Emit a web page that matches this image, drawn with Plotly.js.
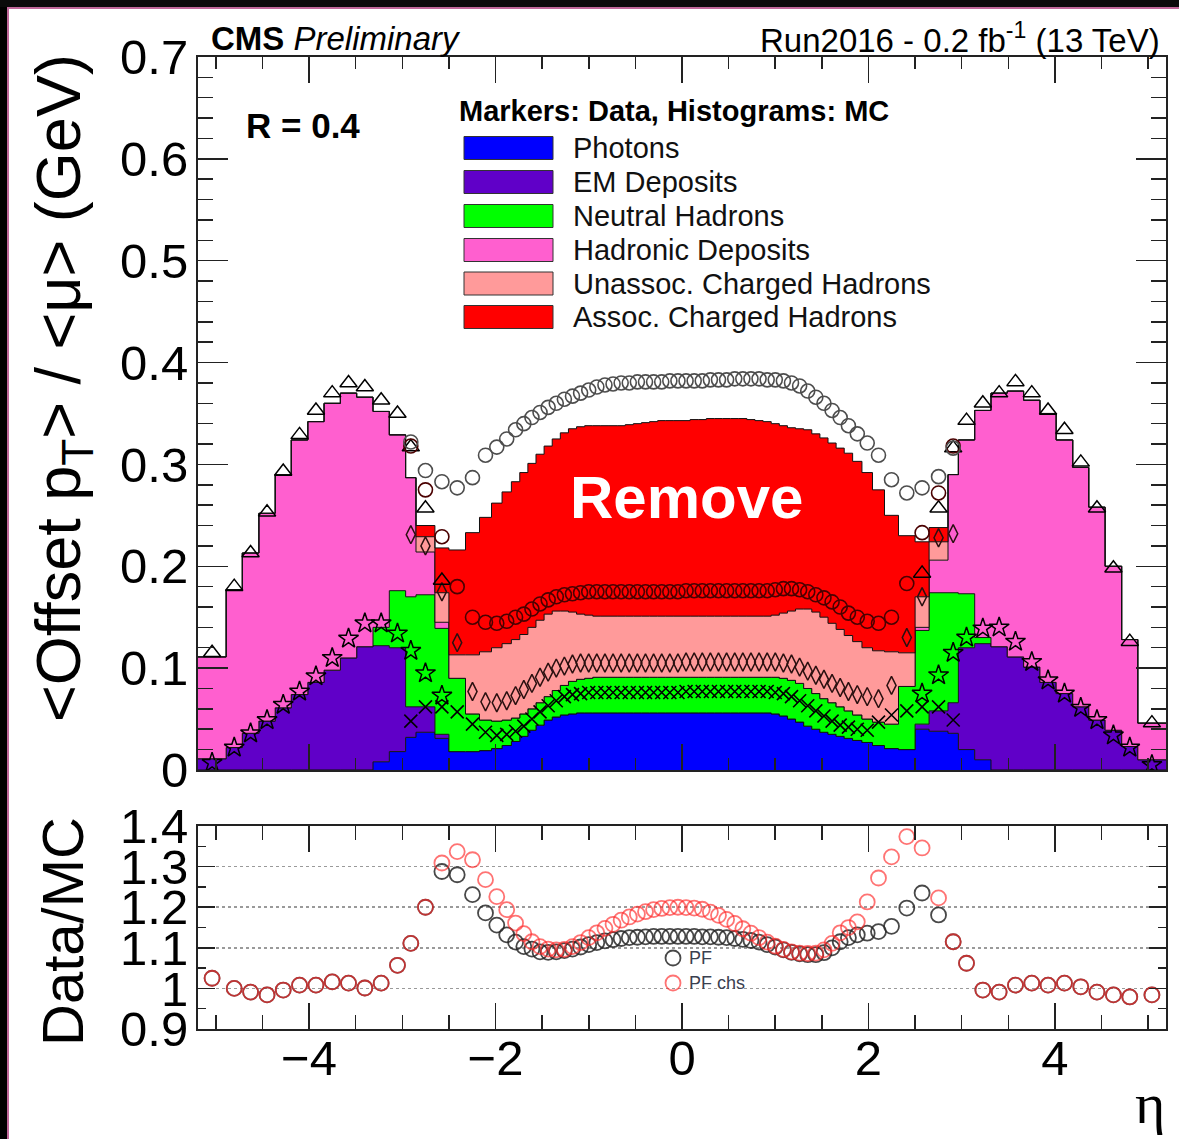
<!DOCTYPE html>
<html><head><meta charset="utf-8">
<script src="https://cdn.plot.ly/plotly-3.0.1.min.js"></script>
<style>html,body{margin:0;padding:0;background:#fff;overflow:hidden;}#chart{width:1179px;height:1139px;}</style>
</head><body><div id="chart"></div>
<script>
// calorimeter tower eta boundaries (positive side)
const towerEdgesPos = [0,0.087,0.174,0.261,0.348,0.435,0.522,0.609,0.696,0.783,0.870,0.957,1.044,1.131,1.218,1.305,1.392,1.479,1.566,1.653,1.740,1.830,1.930,2.043,2.172,2.322,2.500,2.650,2.853,2.964,3.139,3.314,3.489,3.664,3.839,4.013,4.191,4.363,4.538,4.716,4.889,5.191];

// MC stacked (cumulative tops), 82 eta bins from -5.191 to 5.191
const photonsMC = [0,0,0,0,0,0,0,0,0,0, 0.008,0.018,0.032,0.037,0.031,
 0.018,0.018,0.019,0.021,0.024,0.028,0.033,0.039,0.044,0.049,0.052,0.054,0.055,
 0.056,0.056,0.056,0.056,0.056,0.056,0.056,0.056,0.056,0.056,0.056,0.056,0.056,
 0.056,0.056,0.056,0.056,0.056,0.056,0.056,0.056,0.056,0.056,0.056,
 0.055,0.053,0.050,0.047,0.043,0.040,0.037,0.035,0.033,0.031,0.029,0.027,0.024,0.021,0.020,
 0.040,0.038,0.036,0.020,0.010, 0,0,0,0,0,0,0,0,0,0];
const emMC = [0.011,0.022,0.036,0.048,0.061,0.074,0.086,0.098,0.110,0.121, 0.122,0.120,0.062,0.062,0.035,
 0.018,0.018,0.019,0.021,0.024,0.028,0.033,0.039,0.044,0.049,0.052,0.054,0.055,
 0.056,0.056,0.056,0.056,0.056,0.056,0.056,0.056,0.056,0.056,0.056,0.056,0.056,
 0.056,0.056,0.056,0.056,0.056,0.056,0.056,0.056,0.056,0.056,0.056,
 0.055,0.053,0.050,0.047,0.043,0.040,0.037,0.035,0.033,0.031,0.029,0.027,0.024,0.021,0.020,
 0.045,0.058,0.066,0.120,0.124,0.121,0.111,0.101,0.086,0.075,0.062,0.049,0.039,0.023,0.010];
const neutralMC = [0.011,0.022,0.036,0.048,0.061,0.074,0.086,0.098,0.110,0.121, 0.140,0.176,0.170,0.172,0.139,
 0.090,0.055,0.049,0.048,0.049,0.051,0.055,0.060,0.066,0.072,0.078,0.083,0.087,
 0.089,0.090,0.091,0.091,0.091,0.091,0.091,0.091,0.091,0.091,0.091,0.091,0.091,
 0.091,0.091,0.091,0.091,0.091,0.091,0.091,0.091,0.091,0.091,0.091,0.091,
 0.090,0.088,0.085,0.080,0.075,0.070,0.066,0.062,0.058,0.054,0.050,0.047,0.045,0.082,
 0.137,0.174,0.174,0.173,0.130, 0.121,0.111,0.101,0.086,0.075,0.062,0.049,0.039,0.023,0.010];
const hadronicMC = [0.111,0.177,0.213,0.252,0.290,0.324,0.342,0.360,0.370,0.366,0.352,0.329,0.287, 0.214,0.145,
 0.090,0.055,0.049,0.048,0.049,0.051,0.055,0.060,0.066,0.072,0.078,0.083,0.087,
 0.089,0.090,0.091,0.091,0.091,0.091,0.091,0.091,0.091,0.091,0.091,0.091,0.091,
 0.091,0.091,0.091,0.091,0.091,0.091,0.091,0.091,0.091,0.091,0.091,0.091,
 0.090,0.088,0.085,0.080,0.075,0.070,0.066,0.062,0.058,0.054,0.050,0.047,0.045,0.082,
 0.140,0.206,0.290,0.324,0.353,0.370,0.372,0.363,0.350,0.324,0.297,0.258,0.200,0.128,0.046];
const unassocMC = [0.111,0.177,0.213,0.252,0.290,0.324,0.342,0.360,0.370,0.366,0.352,0.329,0.287, 0.229,0.174,
 0.113,0.113,0.116,0.120,0.124,0.128,0.133,0.140,0.147,0.153,0.156,0.156,0.155,0.153,0.152,
 0.151,0.151,0.151,0.151,0.151,0.151,0.151,0.151,0.151,0.151,0.151,
 0.151,0.151,0.151,0.151,0.151,0.151,0.151,0.151,0.151,0.151,0.151,
 0.152,0.154,0.156,0.158,0.158,0.155,0.150,0.144,0.138,0.132,0.126,0.120,0.117,0.116,0.115,
 0.170,0.224, 0.290,0.324,0.353,0.370,0.372,0.363,0.350,0.324,0.297,0.258,0.200,0.128,0.046];
const assocMC = [0.111,0.177,0.213,0.252,0.290,0.324,0.342,0.360,0.370,0.366,0.352,0.329,0.287, 0.240,0.218,
 0.216,0.233,0.248,0.262,0.273,0.283,0.292,0.301,0.310,0.318,0.325,0.331,0.335,0.337,0.338,0.338,0.338,0.338,0.338,0.339,0.340,0.341,0.342,0.343,0.343,0.343,
 0.343,0.344,0.344,0.345,0.345,0.345,0.345,0.345,0.344,0.343,0.342,0.340,0.338,0.336,0.335,0.334,0.330,0.326,0.321,0.316,0.311,0.303,0.292,0.275,0.250,0.230,
 0.224,0.238, 0.290,0.324,0.353,0.370,0.372,0.363,0.350,0.324,0.297,0.258,0.200,0.128,0.046];

// Data (cumulative, as drawn)
const N = null;
const photonsData = [N,N,N,N,N,N,N,N,N,N,N,N, 0.048,0.062,0.062,
 0.057,0.045,0.037,0.034,0.035,0.038,0.043,0.050,0.057,0.063,0.068,0.072,0.074,0.075,
 0.076,0.076,0.076,0.076,0.076,0.076,0.076,0.076,0.076,0.076,0.076,0.076,
 0.077,0.077,0.077,0.077,0.077,0.077,0.077,0.077,0.077,0.077,0.077,
 0.076,0.075,0.072,0.068,0.063,0.058,0.053,0.048,0.044,0.042,0.040,0.039,0.047,0.054,0.058,
 0.062,0.062,0.049, N,N,N,N,N,N,N,N,N,N,N,N];
const emData = [0.007,0.022,0.036,0.049,0.064,0.077,0.092,0.110,0.129,0.144,0.144,0.134,0.117,0.095,0.073,
 N,N,N,N,N,N,N,N,N,N,N,N,N,N,N,N,N,N,N,N,N,N,N,N,N,N,
 N,N,N,N,N,N,N,N,N,N,N,N,N,N,N,N,N,N,N,N,N,N,N,N,N,N,
 0.075,0.093,0.115,0.130,0.139,0.140,0.126,0.106,0.088,0.075,0.061,0.049,0.034,0.022,0.005];
const neutralData = [N,N,N,N,N,N,N,N,N,N,N,N,
 0.231,0.220,0.175,0.125,0.077,0.067,0.066,0.068,0.073,0.079,0.085,0.091,0.096,0.100,0.102,0.104,
 0.105,0.105,0.105,0.105,0.105,0.105,0.105,0.105,0.105,0.105,0.105,0.105,0.105,
 0.106,0.106,0.106,0.106,0.106,0.106,0.106,0.106,0.106,0.106,0.106,0.106,
 0.105,0.104,0.101,0.097,0.093,0.089,0.085,0.081,0.077,0.074,0.072,0.070,0.083,0.130,0.170,0.228,0.232,
 N,N,N,N,N,N,N,N,N,N,N,N];
const hadronicData = [0.115,0.180,0.213,0.253,0.293,0.329,0.353,0.370,0.380,0.376,0.363,0.350,0.317,0.257,0.186,
 N,N,N,N,N,N,N,N,N,N,N,N,N,N,N,N,N,N,N,N,N,N,N,N,N,N,
 N,N,N,N,N,N,N,N,N,N,N,N,N,N,N,N,N,N,N,N,N,N,N,N,N,N,
 0.193,0.257,0.316,0.343,0.360,0.370,0.381,0.370,0.353,0.334,0.302,0.257,0.198,0.126,0.046];
const unassocData = [N,N,N,N,N,N,N,N,N,N,N,N,
 0.318,0.275,0.229,0.180,0.150,0.145,0.144,0.146,0.150,0.153,0.158,0.163,0.167,0.170,0.172,0.173,0.174,
 0.175,0.175,0.175,0.175,0.175,0.175,0.175,0.175,0.175,0.175,0.175,0.175,
 0.176,0.176,0.176,0.176,0.176,0.176,0.176,0.176,0.176,0.176,0.176,
 0.177,0.178,0.178,0.177,0.175,0.172,0.169,0.165,0.160,0.154,0.150,0.146,0.144,0.150,0.183,0.233,0.272,0.318,
 N,N,N,N,N,N,N,N,N,N,N,N];
const assocData = [N,N,N,N,N,N,N,N,N,N,N,N,
 0.322,0.294,0.283,0.277,0.287,0.309,0.317,0.325,0.334,0.340,0.346,0.351,0.356,0.360,0.364,0.367,0.370,0.373,0.376,0.378,0.379,0.380,0.380,0.381,0.381,0.381,0.381,0.382,0.382,
 0.382,0.382,0.382,0.383,0.383,0.383,0.384,0.384,0.384,0.384,0.383,0.383,0.382,0.380,0.377,0.372,0.366,0.360,0.353,0.346,0.338,0.330,0.321,0.309,0.285,0.272,0.277,0.288,0.316,
 N,N,N,N,N,N,N,N,N,N,N,N];

// Ratio Data/MC
const ratioPF = [1.025,1.000,0.991,0.984,0.996,1.008,1.008,1.016,1.013,1.001,1.013,1.057,1.111,1.200,1.288,1.280,1.231,1.186,1.156,1.132,1.114,1.103,1.097,1.090,1.089,1.090,1.093,1.097,1.102,1.108,1.113,1.117,1.120,1.123,1.125,1.126,1.127,1.128,1.128,1.128,1.128,
 1.128,1.128,1.127,1.127,1.126,1.125,1.123,1.121,1.118,1.114,1.108,1.102,1.095,1.089,1.085,1.083,1.083,1.088,
 1.100,1.115,1.125,1.132,1.136,1.140,1.153,1.198,1.235,1.181,1.115,1.062,0.996,0.991,1.008,1.013,1.008,1.013,1.004,0.991,0.984,0.979,0.984];
const ratioPFchs = [1.025,1.000,0.991,0.984,0.996,1.008,1.008,1.016,1.013,1.001,1.013,1.057,1.111,1.200,
 1.309,1.337,1.317,1.268,1.226,1.194,1.161,1.135,1.115,1.103,1.097,1.095,1.096,1.103,1.113,1.125,1.137,1.148,1.158,1.168,1.176,1.183,1.189,1.194,1.197,1.199,1.200,
 1.199,1.198,1.195,1.188,1.180,1.170,1.160,1.147,1.136,1.125,1.114,1.104,1.096,1.090,1.087,1.086,1.087,1.095,
 1.111,1.137,1.150,1.164,1.213,1.272,1.324,1.374,1.346,1.223,1.115,
 1.062,0.996,0.991,1.008,1.013,1.008,1.013,1.004,0.991,0.984,0.979,0.984];

const legendLabels = ['Photons','EM Deposits','Neutral Hadrons','Hadronic Deposits','Unassoc. Charged Hadrons','Assoc. Charged Hadrons'];
const fillColors = ['#0000ff','#6000c8','#00ff00','#ff5fcf','#ff9a9a','#ff0000'];

// ---- build ----
const etaEdges = towerEdgesPos.slice(1).reverse().map(v => -v).concat(towerEdgesPos);
const etaCenters = etaEdges.slice(0, -1).map((e, i) => (e + etaEdges[i + 1]) / 2);
const stepY = arr => arr.concat([arr[arr.length - 1]]);

const mcSeries = [photonsMC, emMC, neutralMC, hadronicMC, unassocMC, assocMC];
const traces = [];
mcSeries.forEach((s, k) => {
  traces.push({
    type: 'scatter', mode: 'lines', x: etaEdges, y: stepY(s),
    line: {shape: 'hv', color: '#111', width: 1},
    fill: k === 0 ? 'tozeroy' : 'tonexty', fillcolor: fillColors[k],
    xaxis: 'x', yaxis: 'y', hoverinfo: 'skip', showlegend: false
  });
});
const mk = (y, symbol, color, size, lw) => ({
  type: 'scatter', mode: 'markers', x: etaCenters, y: y, xaxis: 'x', yaxis: 'y',
  marker: {symbol: symbol, color: color, size: size, line: {width: lw, color: color}},
  showlegend: false, hoverinfo: 'skip', cliponaxis: true
});
traces.push(mk(photonsData, 'x-thin-open', '#000', 13, 1.6));
traces.push(mk(emData, 'star-open', '#000', 15, 1.5));
traces.push(mk(neutralData, 'diamond-tall-open', '#2a1010', 13, 1.5));
traces.push(mk(hadronicData, 'triangle-up-open', '#000', 15, 1.5));
traces.push(mk(unassocData, 'circle-open', '#4a0000', 14, 1.6));
traces.push(mk(assocData, 'circle-open', '#4d4d4d', 14, 1.6));

traces.push({type: 'scatter', mode: 'markers', x: etaCenters, y: ratioPF, xaxis: 'x2', yaxis: 'y2',
  marker: {symbol: 'circle-open', size: 15, color: 'rgba(40,40,40,0.85)', line: {width: 1.8}},
  showlegend: false, hoverinfo: 'skip'});
traces.push({type: 'scatter', mode: 'markers', x: etaCenters, y: ratioPFchs, xaxis: 'x2', yaxis: 'y2',
  marker: {symbol: 'circle-open', size: 15, color: 'rgba(255,40,40,0.65)', line: {width: 1.8}},
  showlegend: false, hoverinfo: 'skip'});

// pixel helpers for decorations
const PX = x => (x - 198) / 968;
const PY = y => (1029 - y) / 972;
const legendRowY = [148, 182, 216, 250, 283.5, 317];
const legendSymbols = ['x-thin-open', 'star-open', 'diamond-tall-open', 'triangle-up-open', 'circle-open', 'circle-open'];
const legendMarkerColors = ['#101060', '#200040', '#104010', '#902080', '#a05050', '#700000'];
legendSymbols.forEach((s, i) => {
  traces.push({type: 'scatter', mode: 'markers', x: [509], y: [legendRowY[i]], xaxis: 'x3', yaxis: 'y3',
    marker: {symbol: s, size: 14, color: legendMarkerColors[i], line: {width: 1.5}}, showlegend: false, hoverinfo: 'skip'});
});
traces.push({type: 'scatter', mode: 'markers', x: [673, 673], y: [958, 983], xaxis: 'x3', yaxis: 'y3',
  marker: {symbol: 'circle-open', size: 15, color: ['rgba(40,40,40,0.85)', 'rgba(255,40,40,0.65)'], line: {width: 1.8}},
  showlegend: false, hoverinfo: 'skip'});

const F = 'Liberation Sans, Arial, sans-serif';
const axisCommon = {
  ticks: 'inside', mirror: 'allticks', showline: true, linecolor: '#222', linewidth: 2,
  tickcolor: '#222', tickwidth: 1.5, showgrid: false, zeroline: false,
  tickfont: {family: F, size: 49, color: '#000'}, fixedrange: true
};
const layout = {
  width: 1179, height: 1139,
  margin: {l: 198, r: 13, t: 57, b: 110, pad: 0},
  paper_bgcolor: '#fff', plot_bgcolor: 'rgba(0,0,0,0)',
  showlegend: false,
  xaxis: Object.assign({}, axisCommon, {domain: [0, 1], anchor: 'y', range: [-5.191, 5.191],
    tick0: 0, dtick: 2, ticklen: 26, showticklabels: false,
    minor: {ticks: 'inside', dtick: 0.5, ticklen: 12, tickcolor: '#222', tickwidth: 1.5}}),
  yaxis: Object.assign({}, axisCommon, {domain: [0.2665, 1], anchor: 'x', range: [0, 0.7],
    tick0: 0, dtick: 0.1, ticklen: 30, ticklabelstandoff: -2,
    minor: {ticks: 'inside', dtick: 0.02, ticklen: 15, tickcolor: '#222', tickwidth: 1.5}}),
  xaxis2: Object.assign({}, axisCommon, {domain: [0, 1], anchor: 'y2', range: [-5.191, 5.191],
    tick0: 0, dtick: 2, ticklen: 26, ticklabelstandoff: -15,
    minor: {ticks: 'inside', dtick: 0.5, ticklen: 14, tickcolor: '#222', tickwidth: 1.5}}),
  yaxis2: Object.assign({}, axisCommon, {domain: [0, 0.2088], anchor: 'x2', range: [0.9, 1.4],
    tick0: 0.9, dtick: 0.1, ticklen: 17, ticklabelstandoff: -2,
    showgrid: true, gridcolor: '#9a9a9a', griddash: 'dot', gridwidth: 1.5,
    minor: {ticks: 'inside', dtick: 0.05, ticklen: 8, tickcolor: '#222', tickwidth: 1.5}}),
  xaxis3: {domain: [0, 1], anchor: 'y3', range: [198, 1166], visible: false, fixedrange: true},
  yaxis3: {domain: [0, 1], anchor: 'x3', range: [1029, 57], visible: false, fixedrange: true},
  shapes: [],
  annotations: []
};
// image border strips
layout.shapes.push({type: 'rect', xref: 'paper', yref: 'paper', x0: PX(0), x1: PX(7), y0: PY(1139), y1: PY(0), fillcolor: '#000', line: {width: 0}});
layout.shapes.push({type: 'rect', xref: 'paper', yref: 'paper', x0: PX(0), x1: PX(1179), y0: PY(7), y1: PY(0), fillcolor: '#0a0a0a', line: {width: 0}});
layout.shapes.push({type: 'line', xref: 'paper', yref: 'paper', x0: PX(8), x1: PX(8), y0: PY(1139), y1: PY(7), line: {color: '#c0689a', width: 2}});
layout.shapes.push({type: 'line', xref: 'paper', yref: 'paper', x0: PX(7), x1: PX(1179), y0: PY(8), y1: PY(8), line: {color: '#c0689a', width: 2}});
// legend boxes
legendRowY.forEach((y, i) => {
  layout.shapes.push({type: 'rect', xref: 'paper', yref: 'paper', x0: PX(464), x1: PX(553), y0: PY(y + 11.5), y1: PY(y - 11.5),
    fillcolor: fillColors[i], line: {color: '#333', width: 1}});
  layout.annotations.push({xref: 'paper', yref: 'paper', x: PX(571), y: PY(y), xanchor: 'left', yanchor: 'middle',
    text: legendLabels[i], showarrow: false, font: {family: F, size: 29, color: '#111'}});
});
const ann = (x, y, text, size, opts) => Object.assign({xref: 'paper', yref: 'paper', x: PX(x), y: PY(y), text: text,
  showarrow: false, font: {family: F, size: size, color: '#000'}}, opts || {});
layout.annotations.push(ann(457, 111, '<b>Markers: Data, Histograms: MC</b>', 29, {xanchor: 'left', yanchor: 'middle'}));
layout.annotations.push(ann(244, 125, '<b>R = 0.4</b>', 35, {xanchor: 'left', yanchor: 'middle'}));
layout.annotations.push(ann(209, 38, '<b>CMS</b> <i>Preliminary</i>', 33, {xanchor: 'left', yanchor: 'middle'}));
layout.annotations.push(ann(1162, 38, 'Run2016 - 0.2 fb<sup>-1</sup> (13 TeV)', 33, {xanchor: 'right', yanchor: 'middle'}));
layout.annotations.push(ann(62, 388, '&lt;Offset p<sub>T</sub>&gt; / &lt;μ&gt; (GeV)', 63, {xanchor: 'center', yanchor: 'middle', textangle: -90}));
layout.annotations.push(ann(62, 932, 'Data/MC', 58, {xanchor: 'center', yanchor: 'middle', textangle: -90}));
layout.annotations.push(ann(1150, 1103, 'η', 58, {xanchor: 'center', yanchor: 'middle', font: {family: 'Liberation Serif, serif', size: 58, color: '#000'}}));
layout.annotations.push(ann(686, 497, '<b>Remove</b>', 60, {xanchor: 'center', yanchor: 'middle', font: {family: F, size: 60, color: '#fff'}}));
layout.annotations.push(ann(687, 958, 'PF', 18, {xanchor: 'left', yanchor: 'middle', font: {family: F, size: 18, color: '#3a4050'}}));
layout.annotations.push(ann(687, 983, 'PF chs', 18, {xanchor: 'left', yanchor: 'middle', font: {family: F, size: 18, color: '#3a4050'}}));

Plotly.newPlot('chart', traces, layout, {displayModeBar: false, staticPlot: true});
</script></body></html>
